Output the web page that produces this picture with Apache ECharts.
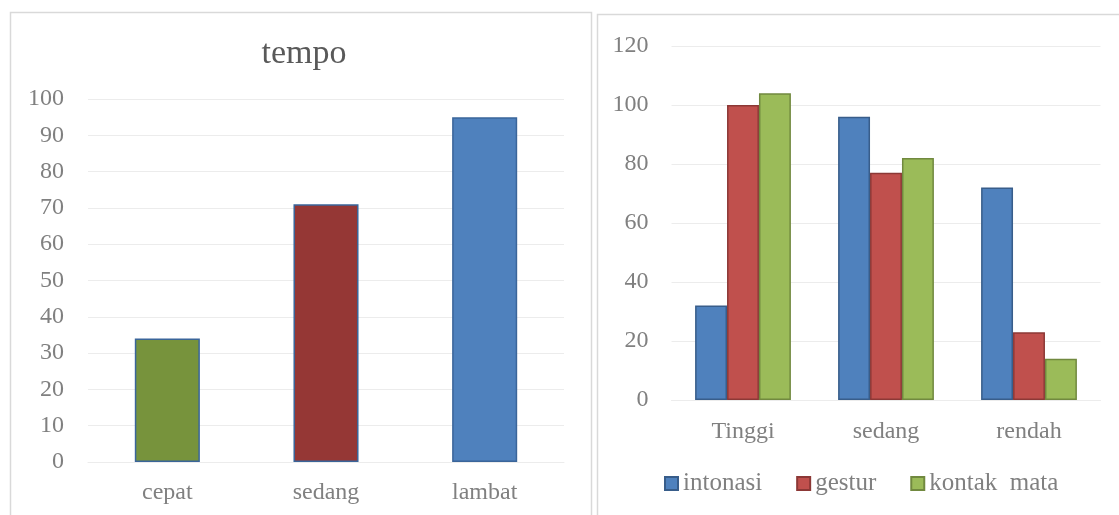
<!DOCTYPE html>
<html>
<head>
<meta charset="utf-8">
<script src="https://cdn.jsdelivr.net/npm/echarts@6/dist/echarts.min.js"></script>
<style>
html,body{margin:0;padding:0;background:#fff;}
#c{width:1119px;height:515px;}
</style>
</head>
<body>
<div id="c"></div>
<script>
// ---- data ----
const tempoCategories = ['cepat', 'sedang', 'lambat'];
const tempoValues = [34, 71, 95];
const tempoTicks = [0, 10, 20, 30, 40, 50, 60, 70, 80, 90, 100];

const levelCategories = ['Tinggi', 'sedang', 'rendah'];
const intonasiValues = [32, 96, 72];
const gesturValues = [100, 77, 23];
const kontakMataValues = [104, 82, 14];
const levelTicks = [0, 20, 40, 60, 80, 100, 120];
const seriesNames = ['intonasi', 'gestur', 'kontak  mata'];

// ---- styles ----
const tempoFill = ['#77933c', '#953735', '#4f81bd'];
const seriesFill = ['#4f81bd', '#c0504d', '#9bbb59'];
const seriesBorder = ['#385d8a', '#8c3836', '#71893f'];
const FONT = 'Liberation Serif';
const LABEL = '#808080';
const GRIDC = '#ececec';

const chart = echarts.init(document.getElementById('c'), null, {renderer: 'canvas'});

const tempoData = tempoValues.map((v, i) => ({
  value: v,
  itemStyle: {color: tempoFill[i]}
}));

const rightSeries = [intonasiValues, gesturValues, kontakMataValues].map((vals, i) => ({
  name: seriesNames[i],
  type: 'bar',
  xAxisIndex: 1,
  yAxisIndex: 1,
  data: vals,
  barGap: '0%',
  barCategoryGap: '33%',
  itemStyle: {color: seriesFill[i], borderColor: seriesBorder[i], borderWidth: 1.5},
  emphasis: {disabled: true}
}));

chart.setOption({
  animation: false,
  backgroundColor: '#ffffff',
  graphic: [
    {type: 'rect', shape: {x: 10.5, y: 12.5, width: 581, height: 520}, style: {fill: 'none', stroke: '#d9d9d9', lineWidth: 1.5}},
    {type: 'rect', shape: {x: 597.5, y: 14.5, width: 540, height: 520}, style: {fill: 'none', stroke: '#d9d9d9', lineWidth: 1.5}}
  ],
  title: {
    text: 'tempo',
    left: 299,
    top: 32,
    textAlign: 'center',
    textStyle: {fontFamily: FONT, fontSize: 34, fontWeight: 'normal', color: '#595959'}
  },
  legend: {
    data: seriesNames,
    left: 664,
    top: 471,
    padding: 0,
    icon: 'rect',
    itemWidth: 13,
    itemHeight: 13,
    itemGap: 34,
    textStyle: {fontFamily: FONT, fontSize: 25, color: LABEL}
  },
  grid: [
    {left: 88, top: 99, width: 476, height: 363},
    {left: 671.5, top: 46, width: 429, height: 354}
  ],
  xAxis: [
    {
      type: 'category', gridIndex: 0, data: tempoCategories,
      axisLine: {lineStyle: {color: GRIDC}}, axisTick: {show: false},
      axisLabel: {fontFamily: FONT, fontSize: 24, color: LABEL, margin: 19}
    },
    {
      type: 'category', gridIndex: 1, data: levelCategories,
      axisLine: {lineStyle: {color: GRIDC}}, axisTick: {show: false},
      axisLabel: {fontFamily: FONT, fontSize: 24, color: LABEL, margin: 20}
    }
  ],
  yAxis: [
    {
      type: 'value', gridIndex: 0, min: tempoTicks[0], max: tempoTicks[tempoTicks.length - 1], interval: tempoTicks[1] - tempoTicks[0],
      axisLine: {show: false}, axisTick: {show: false},
      splitLine: {lineStyle: {color: GRIDC, width: 1}},
      axisLabel: {fontFamily: FONT, fontSize: 24, color: LABEL, margin: 24}
    },
    {
      type: 'value', gridIndex: 1, min: levelTicks[0], max: levelTicks[levelTicks.length - 1], interval: levelTicks[1] - levelTicks[0],
      axisLine: {show: false}, axisTick: {show: false},
      splitLine: {lineStyle: {color: GRIDC, width: 1}},
      axisLabel: {fontFamily: FONT, fontSize: 24, color: LABEL, margin: 23}
    }
  ],
  series: [
    {
      name: 'tempo', type: 'bar', xAxisIndex: 0, yAxisIndex: 0,
      data: tempoData, barWidth: '41%',
      itemStyle: {borderColor: '#3a659a', borderWidth: 1.5},
      emphasis: {disabled: true}
    }
  ].concat(rightSeries)
});
</script>
</body>
</html>
